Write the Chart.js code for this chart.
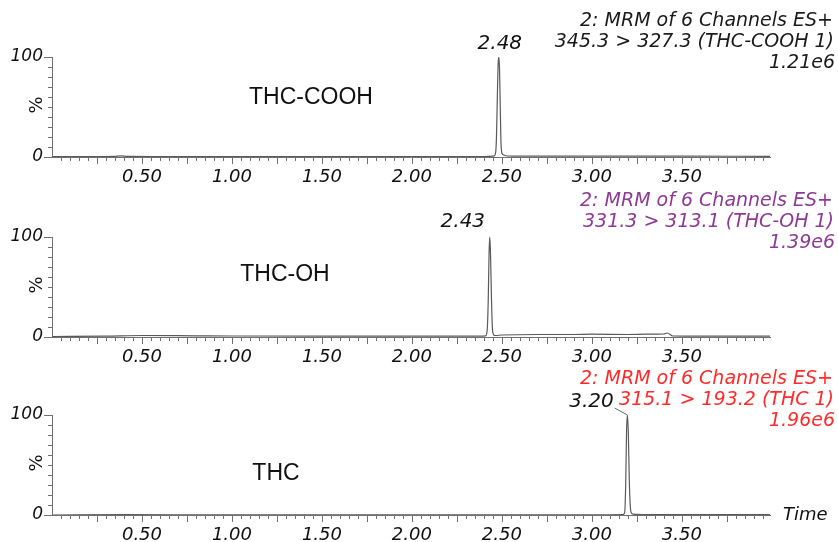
<!DOCTYPE html>
<html>
<head>
<meta charset="utf-8">
<script src="https://cdn.jsdelivr.net/npm/chart.js@4.4.1/dist/chart.umd.min.js"></script>
<style>
  body { margin: 0; background: #fff; width: 838px; height: 542px; position: relative; overflow: hidden; }
  canvas { position: absolute; left: 0; }
</style>
</head>
<body>
<canvas id="p0" width="838" height="200" style="top:0px"></canvas>
<canvas id="p1" width="838" height="200" style="top:180px"></canvas>
<canvas id="p2" width="838" height="184" style="top:358px"></canvas>
<script>
// textos de cada cromatograma
const compounds = ["THC-COOH", "THC-OH", "THC"];
const peakLabels = ["2.48", "2.43", "3.20"];
const headerLine1 = ["2: MRM of 6 Channels ES+", "2: MRM of 6 Channels ES+", "2: MRM of 6 Channels ES+"];
const headerLine2 = ["345.3 > 327.3 (THC-COOH 1)", "331.3 > 313.1 (THC-OH 1)", "315.1 > 193.2 (THC 1)"];
const headerLine3 = ["1.21e6", "1.39e6", "1.96e6"];
const xTickLabels = ["0.50", "1.00", "1.50", "2.00", "2.50", "3.00", "3.50"];
const yTickLabels = ["0", "100"];

// THC-COOH (tiempo en min, % intensidad)
const timeCOOH = [0, 0.2, 0.35, 0.38, 0.42, 0.6, 1.0, 1.5, 2.0, 2.4, 2.455, 2.465, 2.47, 2.475, 2.479, 2.483, 2.487, 2.491, 2.495, 2.5, 2.51, 2.53, 2.6, 3.0, 3.5, 3.99];
const pctCOOH = [0.5, 0.4, 0.6, 1.2, 0.6, 0.5, 0.5, 0.4, 0.4, 0.5, 0.8, 4, 20, 62, 92, 100, 88, 50, 15, 4, 2, 1, 0.8, 0.8, 0.8, 0.7];

// THC-OH
const timeOH = [0, 0.3, 0.5, 0.8, 1.0, 1.5, 2.0, 2.38, 2.41, 2.418, 2.424, 2.429, 2.433, 2.437, 2.442, 2.447, 2.452, 2.46, 2.5, 2.7, 2.9, 3.0, 3.2, 3.3, 3.4, 3.42, 3.45, 3.6, 3.99];
const pctOH = [0.5, 0.8, 1.5, 1.2, 1.0, 0.8, 0.8, 0.8, 1.2, 6, 35, 85, 100, 82, 40, 10, 3, 1.5, 2, 2.5, 2.5, 2.8, 2.5, 2.8, 3, 4, 1, 0.8, 0.8];

// THC
const timeTHC = [0, 0.4, 1.0, 2.0, 3.0, 3.17, 3.182, 3.188, 3.193, 3.198, 3.203, 3.208, 3.214, 3.22, 3.23, 3.3, 3.99];
const pctTHC = [0, 0.3, 0.2, 0.2, 0.2, 0.3, 2, 30, 85, 100, 80, 35, 8, 2, 0.8, 0.3, 0.3];

const series = [[timeCOOH, pctCOOH], [timeOH, pctOH], [timeTHC, pctTHC]];

// estilos por panel
const panelStyle = [
  { color: "#1a1a1a", nameX: 311, nameDy: 41, labelDx: 1, labelDy: -13, leader: false, timeTitle: false },
  { color: "#8e3a94", nameX: 285, nameDy: 38, labelDx: -27, labelDy: -15, leader: false, timeTitle: false },
  { color: "#ff2a2a", nameX: 276, nameDy: 59, labelDx: -36, labelDy: -13, leader: true, timeTitle: true },
];

const AXIS = "#707070";
const NUM_FONT = "DejaVu Sans";

// marcas de ticks y textos de anotación
const chromPlugin = {
  id: "chrom",
  afterDraw(chart, args, opts) {
    const { ctx, chartArea } = chart;
    const xs = chart.scales.x, ys = chart.scales.y;
    ctx.save();
    ctx.strokeStyle = AXIS;
    ctx.lineWidth = 1;
    // ticks del eje x
    xs.ticks.forEach((t) => {
      const px = Math.round(xs.getPixelForValue(t.value)) + 0.5;
      const major = Math.abs(t.value * 4 - Math.round(t.value * 4)) < 1e-6;
      ctx.beginPath();
      ctx.moveTo(px, chartArea.bottom);
      ctx.lineTo(px, chartArea.bottom + (major ? 7 : 4));
      ctx.stroke();
    });
    // ticks del eje y
    ys.ticks.forEach((t) => {
      const py = Math.round(ys.getPixelForValue(t.value)) + 0.5;
      const big = t.value === 0 || t.value === 100;
      ctx.beginPath();
      ctx.moveTo(chartArea.left, py);
      ctx.lineTo(chartArea.left - (big ? 8 : 4), py);
      ctx.stroke();
    });

    const st = opts.style;
    const i = opts.index;
    // "%"
    ctx.fillStyle = "#111";
    ctx.save();
    ctx.translate(37, chartArea.top + 48);
    ctx.rotate(-Math.PI / 2);
    ctx.font = "18px " + NUM_FONT;
    ctx.textAlign = "center";
    ctx.textBaseline = "middle";
    ctx.fillText("%", 0, 0);
    ctx.restore();

    // nombre del compuesto
    ctx.font = "23px 'Liberation Sans'";
    ctx.textAlign = "center";
    ctx.textBaseline = "middle";
    ctx.fillText(compounds[i], st.nameX, chartArea.top + st.nameDy);

    // cabecera
    ctx.fillStyle = st.color;
    ctx.font = "italic 19px " + NUM_FONT;
    ctx.textAlign = "right";
    ctx.fillText(headerLine1[i], 833, chartArea.top - 36);
    ctx.fillText(headerLine2[i], 834, chartArea.top - 15);
    ctx.fillText(headerLine3[i], 835, chartArea.top + 6);

    // etiqueta del pico
    const [tt, pp] = series[i];
    let k = 0;
    pp.forEach((v, j) => { if (v > pp[k]) k = j; });
    const apx = xs.getPixelForValue(tt[k]);
    const apy = ys.getPixelForValue(pp[k]);
    ctx.fillStyle = "#111";
    ctx.font = "italic 20px " + NUM_FONT;
    ctx.textAlign = "center";
    const lx = apx + st.labelDx, ly = apy + st.labelDy;
    ctx.fillText(peakLabels[i], lx, ly);
    if (st.leader) {
      const w = ctx.measureText(peakLabels[i]).width;
      ctx.strokeStyle = "#666";
      ctx.beginPath();
      ctx.moveTo(lx + w / 2 + 1, ly + 6);
      ctx.lineTo(apx, apy);
      ctx.stroke();
    }
    if (st.timeTitle) {
      ctx.font = "italic 18px " + NUM_FONT;
      ctx.textAlign = "left";
      ctx.fillText("Time", 783, chartArea.bottom);
    }
    ctx.restore();
  },
};

function renderPanel(i) {
  const [tt, pp] = series[i];
  const canvas = document.getElementById("p" + i);
  const ctx = canvas.getContext("2d");
  new Chart(ctx, {
    type: "line",
    data: {
      datasets: [{
        data: tt.map((t, j) => ({ x: t, y: pp[j] })),
        borderColor: "#5a5a5a",
        borderWidth: 1.2,
        pointRadius: 0,
        fill: false,
        cubicInterpolationMode: "monotone",
      }],
    },
    plugins: [chromPlugin],
    options: {
      responsive: false,
      animation: false,
      layout: { padding: { top: 57, right: 68, left: 0, bottom: 0 } },
      plugins: {
        legend: { display: false },
        tooltip: { enabled: false },
        chrom: { index: i, style: panelStyle[i] },
      },
      scales: {
        x: {
          type: "linear",
          min: 0,
          max: 3.99,
          afterBuildTicks: (s) => {
            const ticks = [];
            for (let n = 1; n * 0.05 < 3.97; n++) ticks.push({ value: Math.round(n * 5) / 100 });
            s.ticks = ticks;
          },
          afterFit: (s) => { s.height = canvas.height - 157; },
          grid: { display: false, drawTicks: false },
          border: { display: true, color: AXIS, width: 1 },
          ticks: {
            autoSkip: false,
            maxRotation: 0,
            padding: 10,
            color: "#111",
            font: { family: NUM_FONT, size: 18, style: "italic" },
            callback: (v) => (xTickLabels.includes(Number(v).toFixed(2)) ? Number(v).toFixed(2) : ""),
          },
        },
        y: {
          min: 0,
          max: 100,
          afterBuildTicks: (s) => {
            const ticks = [];
            for (let v = 0; v <= 100; v += 10) ticks.push({ value: v });
            s.ticks = ticks;
          },
          afterFit: (s) => { s.width = 52; },
          grid: { display: false, drawTicks: false },
          border: { display: true, color: AXIS, width: 1 },
          ticks: {
            autoSkip: false,
            padding: 9,
            color: "#111",
            font: { family: NUM_FONT, size: 17, style: "italic" },
            callback: (v) => (yTickLabels.includes(String(v)) ? String(v) : ""),
          },
        },
      },
    },
  });
}

[0, 1, 2].forEach(renderPanel);
</script>
</body>
</html>
